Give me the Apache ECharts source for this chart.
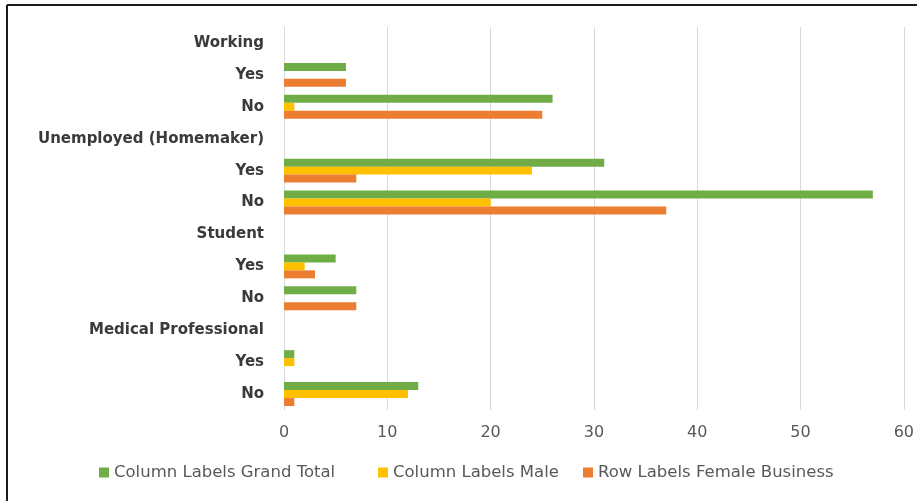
<!DOCTYPE html>
<html>
<head>
<meta charset="utf-8">
<script src="https://cdn.jsdelivr.net/npm/echarts@6/dist/echarts.min.js"></script>
<style>
  html, body { margin: 0; padding: 0; background: #ffffff; }
  #chart { width: 917px; height: 501px; }
</style>
</head>
<body>
<div id="chart"></div>
<script>
// Row labels, top to bottom (group headers have no bars)
const categories = [
  'Working', 'Yes', 'No',
  'Unemployed (Homemaker)', 'Yes', 'No',
  'Student', 'Yes', 'No',
  'Medical Professional', 'Yes', 'No'
];
const grandTotal     = [null, 6, 26, null, 31, 57, null, 5, 7, null, 1, 13];
const male           = [null, 0, 1, null, 24, 20, null, 2, 0, null, 1, 12];
const femaleBusiness = [null, 6, 25, null, 7, 37, null, 3, 7, null, 0, 1];
const xTicks = [0, 10, 20, 30, 40, 50, 60];

const seriesNames = ['Column Labels Grand Total', 'Column Labels Male', 'Row Labels Female Business'];
const colors = ['#70AD47', '#FFC000', '#ED7D31'];
const legendLeft = [94, 373, 578];

const chart = echarts.init(document.getElementById('chart'));
const font = 'DejaVu Sans, sans-serif';

chart.setOption({
  animation: false,
  backgroundColor: '#ffffff',
  color: colors,
  grid: { left: 284, right: 12, top: 27, bottom: 91, containLabel: false },
  legend: seriesNames.map((name, i) => ({
    top: 459,
    left: legendLeft[i],
    itemWidth: 10,
    itemHeight: 10,
    itemGap: 0,
    icon: 'rect',
    textStyle: { fontFamily: font, fontSize: 16.5, color: '#595959' },
    data: [name]
  })),
  xAxis: {
    type: 'value',
    min: xTicks[0],
    max: xTicks[xTicks.length - 1],
    interval: 10,
    axisLine: { show: false },
    axisTick: { show: false },
    axisLabel: { fontFamily: font, fontSize: 16, color: '#595959', margin: 15 },
    splitLine: { show: true, lineStyle: { color: '#d9d9d9', width: 1 } }
  },
  yAxis: {
    type: 'category',
    inverse: true,
    data: categories,
    axisLine: { show: true, lineStyle: { color: '#d9d9d9' } },
    axisTick: { show: false },
    axisLabel: { fontFamily: font, fontSize: 15, fontWeight: 'bold', color: '#3a3a3a', margin: 20 }
  },
  series: seriesNames.map((name, i) => ({
    name,
    type: 'bar',
    data: [grandTotal, male, femaleBusiness][i],
    barGap: '0%',
    barCategoryGap: '25%',
    itemStyle: { color: colors[i] }
  })),
  graphic: [
    { type: 'line', shape: { x1: 7, y1: 5, x2: 917, y2: 5 }, style: { stroke: '#1a1a1a', lineWidth: 2 } },
    { type: 'line', shape: { x1: 7, y1: 5, x2: 7, y2: 501 }, style: { stroke: '#1a1a1a', lineWidth: 2 } }
  ]
});
</script>
</body>
</html>
